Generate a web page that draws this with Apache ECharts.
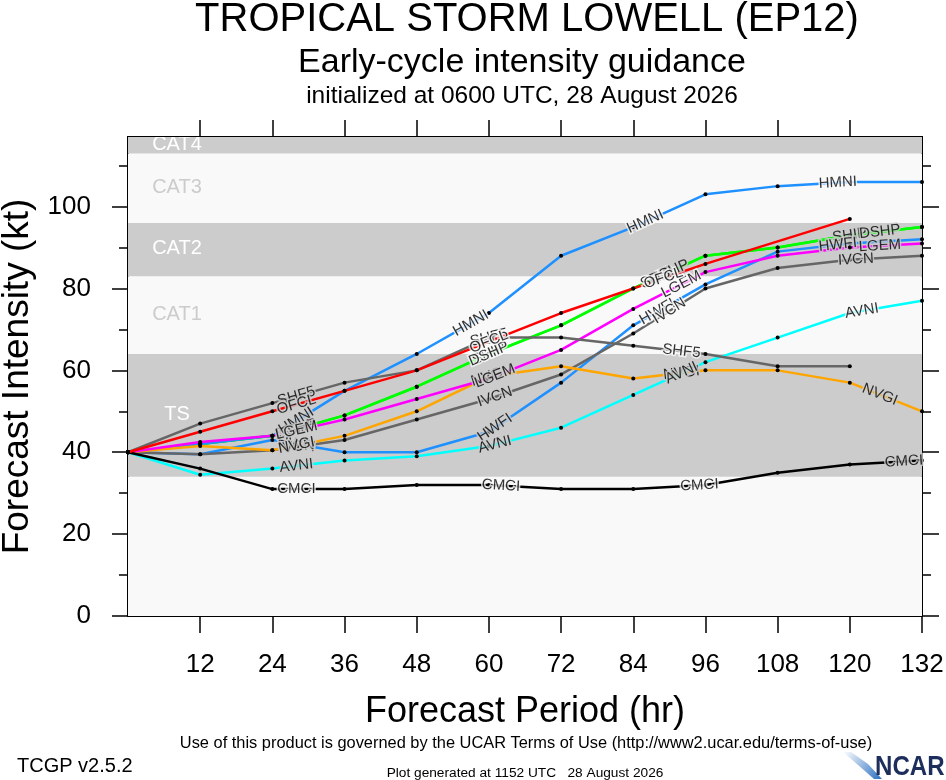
<!DOCTYPE html>
<html><head><meta charset="utf-8">
<script src="https://cdn.jsdelivr.net/npm/echarts@6/dist/echarts.min.js"></script>
<style>html,body{margin:0;padding:0;background:#fff}#c{width:946px;height:780px}</style>
</head><body><div id="c"></div>
<script>
// ---- data ----
const hours = [0, 12, 24, 36, 48, 60, 72, 84, 96, 108, 120, 132];
const OFCL = [40, 45, 50, 55, 60, 67, 74, null, 86, null, 97, null];
const SHF5 = [40, 47, 52, 57, 60, 68, 68, 66, 64, 61, 61, null];
const HMNI = [40, 42, 44, 55, 64, 74, 88, 95, 103, 105, 106, 106];
const SHIP = [40, 42, 44, 49, 56, 64, 71, 80, 88, 90, 93, 95];
const DSHP = [40, 42, 44, 49, 56, 64, 71, 80, 88, 90, 93, 95];
const LGEM = [40, 42.5, 44, 48, 53, 58, 65, 75, 84, 88, 90, 91];
const HWFI = [40, 39.5, 43, 40, 40, 45, 57, 71, 81, 89, 91, 92];
const IVCN = [40, 39.5, 40.5, 43, 48, 53, 59, 69, 80, 85, 87, 88];
const NVGI = [40, 41.5, 40.5, 44, 50, 58.5, 61, 58, 60, 60, 57, 50];
const AVNI = [40, 34.5, 36, 38, 39, 41.5, 46, 54, 62, 68, 74, 77];
const CMCI = [40, 36, 31, 31, 32, 32, 31, 31, 32, 35, 37, 38];

const bandEdges = [0, 34, 64, 83, 96, 113, 117];
const bandNames = ['', 'TS', 'CAT1', 'CAT2', 'CAT3', 'CAT4'];
const xTickValues = [12, 24, 36, 48, 60, 72, 84, 96, 108, 120, 132];
const xTopTickValues = [12, 24, 36, 48, 60, 72, 84, 96, 108, 120];
const yLabelValues = [0, 20, 40, 60, 80, 100];
const yMinorValues = [10, 30, 50, 70, 90, 110];

// ---- styling / layout (separate from data) ----
const FONT = '"Liberation Sans", Arial, Helvetica, sans-serif';
const GRAY = '#cccccc', LIGHT = '#f9f9f9';
const models = [
  {name: 'SHIP', data: SHIP, color: '#00ff00', labelAt: [28, 60, 88, 120]},
  {name: 'DSHP', data: DSHP, color: '#00ff00', labelAt: [28, 60, 90, 125]},
  {name: 'HMNI', data: HMNI, color: '#1e90ff', labelAt: [28, 57, 86, 118]},
  {name: 'HWFI', data: HWFI, color: '#1e90ff', labelAt: [28, 61, 88, 118]},
  {name: 'IVCN', data: IVCN, color: '#666666', labelAt: [28, 61, 90, 121]},
  {name: 'NVGI', data: NVGI, color: '#ffa500', labelAt: [28, 60, 92, 125]},
  {name: 'LGEM', data: LGEM, color: '#ff00ff', labelAt: [28, 61, 92, 125]},
  {name: 'AVNI', data: AVNI, color: '#00ffff', labelAt: [28, 61, 92, 122]},
  {name: 'CMCI', data: CMCI, color: '#000000', labelAt: [28, 62, 95, 129]},
  {name: 'SHF5', data: SHF5, color: '#666666', labelAt: [28, 60, 92]},
  {name: 'OFCL', data: OFCL, color: '#ff0000', labelAt: [28, 60, 89]}
];

const chart = echarts.init(document.getElementById('c'), null, {renderer: 'canvas'});

function isGrayBand(v) {
  for (let i = 0; i < bandNames.length; i++) {
    if (v >= bandEdges[i] && v < bandEdges[i + 1]) return i % 2 === 1;
  }
  return true;
}

function axisBase(extra) {
  return Object.assign({
    type: 'value',
    axisLine: {show: true, onZero: false, lineStyle: {color: '#000', width: 2}},
    splitLine: {show: false},
    axisLabel: {show: false},
    axisTick: {show: false}
  }, extra);
}

const bandSeries = {
  type: 'custom', z: 1, silent: true, clip: true, animation: false,
  xAxisIndex: 0, yAxisIndex: 0,
  data: bandNames.map((n, i) => [bandEdges[i], bandEdges[i + 1], i]),
  renderItem(params, api) {
    const lo = api.value(0), hi = api.value(1), i = api.value(2);
    const cs = params.coordSys;
    const yTop = api.coord([0, hi])[1], yBot = api.coord([0, lo])[1];
    const gray = i % 2 === 1;
    const children = [{
      type: 'rect',
      shape: {x: cs.x, y: yTop, width: cs.width, height: yBot - yTop},
      style: {fill: gray ? GRAY : LIGHT}
    }];
    if (bandNames[i]) {
      children.push({
        type: 'text', x: cs.x + 49, y: (yTop + yBot) / 2 - 1,
        style: {text: bandNames[i], fill: gray ? '#ffffff' : GRAY, font: '20px ' + FONT,
                textAlign: 'center', textVerticalAlign: 'middle'}
      });
    }
    return {type: 'group', children};
  }
};

const lineSeries = models.map(m => ({
  type: 'line', name: m.name, silent: true, animation: false, z: 3,
  xAxisIndex: 0, yAxisIndex: 0,
  data: hours.map((h, i) => [h, m.data[i] == null ? '-' : m.data[i]]),
  connectNulls: true, symbol: 'circle', symbolSize: 4, showAllSymbol: true,
  itemStyle: {color: '#000'},
  lineStyle: {color: m.color, width: 2.5}
}));

const option = {
  animation: false,
  backgroundColor: '#ffffff',
  grid: {left: 128, right: 24, top: 137, bottom: 164, outerBoundsMode: 'none', containLabel: false},
  xAxis: [
    axisBase({position: 'bottom', min: 0, max: 132, interval: 12,
      axisTick: {show: true, inside: false, length: 17, lineStyle: {color: '#000', width: 1.5}, customValues: xTickValues},
      axisLabel: {show: true, customValues: xTickValues, fontSize: 26, color: '#000', margin: 36, fontFamily: FONT},
      name: 'Forecast Period (hr)', nameLocation: 'middle', nameGap: 78,
      nameTextStyle: {fontSize: 36, color: '#000', fontFamily: FONT}}),
    axisBase({position: 'top', min: 0, max: 132, interval: 12,
      axisTick: {show: true, inside: false, length: 17, lineStyle: {color: '#000', width: 1.5}, customValues: xTopTickValues}})
  ],
  yAxis: [
    axisBase({position: 'left', min: 0, max: 117, interval: 20,
      axisTick: {show: true, inside: false, length: 16, lineStyle: {color: '#000', width: 1.5}, customValues: yLabelValues},
      axisLabel: {show: true, customValues: yLabelValues, fontSize: 26, color: '#000', margin: 37, fontFamily: FONT},
      name: 'Forecast Intensity (kt)', nameLocation: 'middle', nameGap: 90, nameRotate: 90,
      nameTextStyle: {fontSize: 37, color: '#000', fontFamily: FONT}}),
    axisBase({position: 'left', min: 0, max: 117,
      axisTick: {show: true, inside: false, length: 9, lineStyle: {color: '#000', width: 1.5}, customValues: yMinorValues}}),
    axisBase({position: 'right', min: 0, max: 117,
      axisTick: {show: true, inside: false, length: 17, lineStyle: {color: '#000', width: 1.5}, customValues: yLabelValues}}),
    axisBase({position: 'right', min: 0, max: 117,
      axisTick: {show: true, inside: false, length: 9, lineStyle: {color: '#000', width: 1.5}, customValues: yMinorValues}})
  ],
  graphic: [
    {type: 'text', x: 527, y: 20, style: {text: 'TROPICAL STORM LOWELL (EP12)', font: '40px ' + FONT, fill: '#000', textAlign: 'center', textVerticalAlign: 'middle'}},
    {type: 'text', x: 522, y: 63, style: {text: 'Early-cycle intensity guidance', font: '34px ' + FONT, fill: '#000', textAlign: 'center', textVerticalAlign: 'middle'}},
    {type: 'text', x: 522, y: 96, style: {text: 'initialized at 0600 UTC, 28 August 2026', font: '24.5px ' + FONT, fill: '#000', textAlign: 'center', textVerticalAlign: 'middle'}},
    {type: 'text', x: 526, y: 743, style: {text: 'Use of this product is governed by the UCAR Terms of Use (http://www2.ucar.edu/terms-of-use)', font: '16.4px ' + FONT, fill: '#000', textAlign: 'center', textVerticalAlign: 'middle'}},
    {type: 'text', x: 17, y: 766, style: {text: 'TCGP v2.5.2', font: '20px ' + FONT, fill: '#000', textAlign: 'left', textVerticalAlign: 'middle'}},
    {type: 'text', x: 525, y: 773, style: {text: 'Plot generated at 1152 UTC   28 August 2026', font: '13.7px ' + FONT, fill: '#000', textAlign: 'center', textVerticalAlign: 'middle'}},
    {type: 'polygon', shape: {points: [[843, 752], [851, 752], [868, 764], [882, 779], [874, 779], [858, 765]]},
     style: {fill: {type: 'linear', x: 0, y: 0, x2: 1, y2: 1, colorStops: [{offset: 0, color: '#ffffff'}, {offset: 1, color: '#2a6fc0'}]}}},
    {type: 'text', x: 875, y: 781, scaleX: 0.86, style: {text: 'NCAR', font: 'bold 28px ' + FONT, fill: '#1d2d5c', textAlign: 'left', textVerticalAlign: 'bottom'}}
  ],
  series: [bandSeries].concat(lineSeries)
};

chart.setOption(option);

// ---- model labels placed along each line ----
function segmentAt(arr, h) {
  const pts = [];
  hours.forEach((hh, i) => { if (arr[i] != null) pts.push([hh, arr[i]]); });
  for (let k = 0; k < pts.length; k++) {
    if (pts[k][0] === h) {
      const a = pts[Math.max(0, k - 1)], b = pts[Math.min(pts.length - 1, k + 1)];
      return {v: pts[k][1], a, b};
    }
    if (k + 1 < pts.length && pts[k][0] < h && pts[k + 1][0] > h) {
      const a = pts[k], b = pts[k + 1];
      const t = (h - a[0]) / (b[0] - a[0]);
      return {v: a[1] + t * (b[1] - a[1]), a, b};
    }
  }
  return null;
}

const labelData = [];
models.forEach(m => {
  m.labelAt.forEach(h => {
    const s = segmentAt(m.data, h);
    if (!s) return;
    const p1 = chart.convertToPixel({gridIndex: 0}, s.a);
    const p2 = chart.convertToPixel({gridIndex: 0}, s.b);
    const ang = Math.atan2(-(p2[1] - p1[1]), p2[0] - p1[0]) * 180 / Math.PI;
    labelData.push({
      value: [h, s.v],
      label: {show: true, formatter: m.name, rotate: ang, textBorderColor: isGrayBand(s.v) ? GRAY : LIGHT}
    });
  });
});

option.series.push({
  type: 'scatter', name: 'labels', silent: true, animation: false, z: 5,
  xAxisIndex: 0, yAxisIndex: 0,
  symbol: 'circle', symbolSize: 2, itemStyle: {color: 'rgba(0,0,0,0)'},
  label: {show: true, position: 'inside', color: '#000', fontSize: 15, fontFamily: FONT,
          textBorderWidth: 3},
  labelLayout: {hideOverlap: false},
  data: labelData
});
chart.setOption(option, true);
</script>
</body></html>
